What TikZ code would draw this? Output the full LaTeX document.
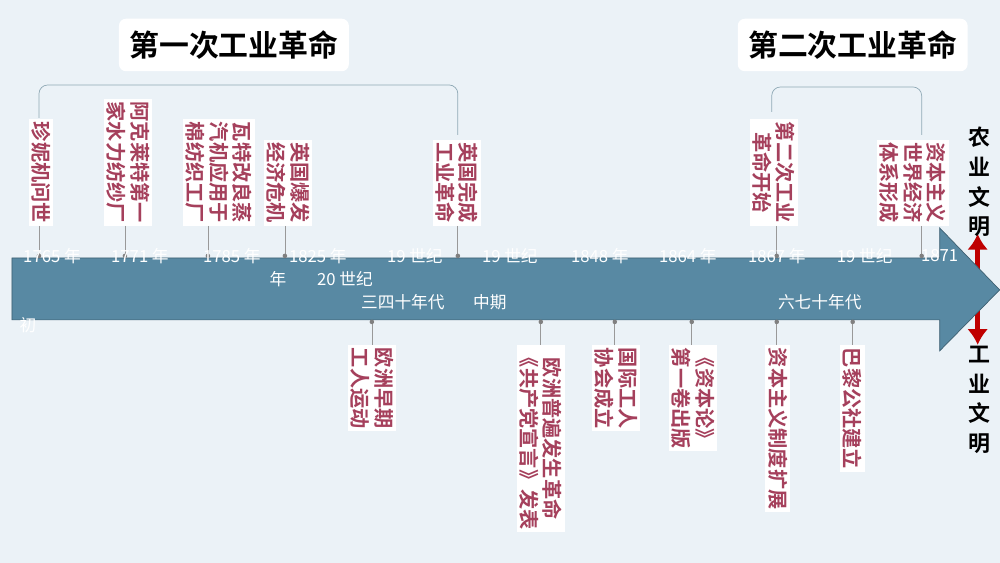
\documentclass[tikz,border=0pt]{standalone}
\usepackage{fontspec}
\usetikzlibrary{arrows.meta}
\newfontfamily\cjk{Noto Sans CJK SC}[BoldFont={Noto Sans CJK SC Bold}]
\definecolor{beijing}{HTML}{EBF2F7}
\definecolor{jiantou}{HTML}{5889A3}
\definecolor{zihong}{HTML}{A5405C}
\definecolor{xianhui}{HTML}{8FA9B5}
\begin{document}
\begin{tikzpicture}[x=0.02cm,y=-0.02cm,
    shuka/.style={fill=white,inner sep=1.5pt,rotate=-90,align=center,text=zihong,font=\cjk\bfseries\fontsize{11.5}{13.5}\selectfont},
    biaoti/.style={fill=white,rounded corners=4pt,minimum width=4.6cm,minimum height=1.05cm,font=\cjk\bfseries\fontsize{17}{20}\selectfont},
    nian/.style={text=white,font=\cjk\fontsize{9.5}{11}\selectfont,inner sep=0pt},
    lianxian/.style={draw=gray!80,thin},
    kuohao/.style={draw=xianhui,thin,rounded corners=5pt}]
    \fill[beijing] (0,0) rectangle (1000,563);
    % red double arrow behind the timeline
    \draw[red!75!black,line width=3pt,-{Latex[length=9pt,width=12pt]}] (978,290) -- (978,234);
    \draw[red!75!black,line width=3pt,-{Latex[length=9pt,width=12pt]}] (978,290) -- (978,345);
    % the timeline arrow
    \fill[jiantou,draw=jiantou!70!black] (12,258) -- (940,258) -- (940,228) -- (1000,290) -- (940,351) -- (940,320) -- (12,320) -- cycle;
    % titles
    \node[biaoti] (t1) at (234,45) {第一次工业革命};
    \node[biaoti] (t2) at (853,45) {第二次工业革命};
    % brackets
    \draw[kuohao] (39,118) -- (39,85) -- (458,85) -- (458,135);
    \draw[kuohao] (772,112) -- (772,87) -- (922,87) -- (922,135);
    % upper events
    \node[shuka,anchor=east] (s1) at (41,226) {珍妮机问世};
    \node[shuka,anchor=east] (s2) at (128,226) {阿克莱特第一\\家水力纺纱厂};
    \node[shuka,anchor=east] (s3) at (219,226) {瓦特改良蒸\\汽机应用于\\棉纺织工厂};
    \node[shuka,anchor=east] (s4) at (288,226) {英国爆发\\经济危机};
    \node[shuka,anchor=east] (s5) at (457,226) {英国完成\\工业革命};
    \node[shuka,anchor=east] (s6) at (774,226) {第二次工业\\革命开始};
    \node[shuka,anchor=east] (s7) at (913,226) {资本主义\\世界经济\\体系形成};
    % lower events
    \node[shuka,anchor=west] (x1) at (372,345) {欧洲早期\\工人运动};
    \node[shuka,anchor=west] (x2) at (541,345) {欧洲普遍发生革命\\《共产党宣言》发表};
    \node[shuka,anchor=west] (x3) at (616,345) {国际工人\\协会成立};
    \node[shuka,anchor=west] (x4) at (693,345) {《资本论》\\第一卷出版};
    \node[shuka,anchor=west] (x5) at (778,345) {资本主义制度扩展};
    \node[shuka,anchor=west] (x6) at (853,345) {巴黎公社建立};
    % connectors
    \foreach \n/\x in {s1/39,s2/125,s3/208,s4/285,s5/458,s6/777,s7/922} {
        \coordinate (d\n) at (\x,256);
        \draw[lianxian] (\x,226) -- (d\n);
        \fill[gray] (d\n) circle (1.3pt);
    }
    \foreach \n/\x in {x1/372,x2/541,x3/615,x4/692,x5/777,x6/853} {
        \coordinate (d\n) at (\x,322);
        \draw[lianxian] (d\n) -- (\x,345);
        \fill[gray] (d\n) circle (1.3pt);
    }
    % dates
    \foreach \x/\t in {52/1765 年,140/1771 年,232/1785 年,318/1825 年,415/19 世纪,510/19 世纪,600/1848 年,688/1864 年,777/1867 年,865/19 世纪,940/1871}
        \node[nian] at (\x,256) {\t};
    \node[nian] at (278,279) {年};
    \node[nian] at (345,279) {20 世纪};
    \node[nian] at (403,302) {三四十年代};
    \node[nian] at (490,302) {中期};
    \node[nian] at (820,302) {六七十年代};
    \node[nian] at (28,325) {初};
    % civilisations
    \node[align=center,font=\cjk\bfseries\fontsize{12.5}{17}\selectfont,inner sep=0pt] (ny) at (980,182) {农\\业\\文\\明};
    \node[align=center,font=\cjk\bfseries\fontsize{12.5}{17}\selectfont,inner sep=0pt] (gy) at (980,400) {工\\业\\文\\明};
\end{tikzpicture}
\end{document}
